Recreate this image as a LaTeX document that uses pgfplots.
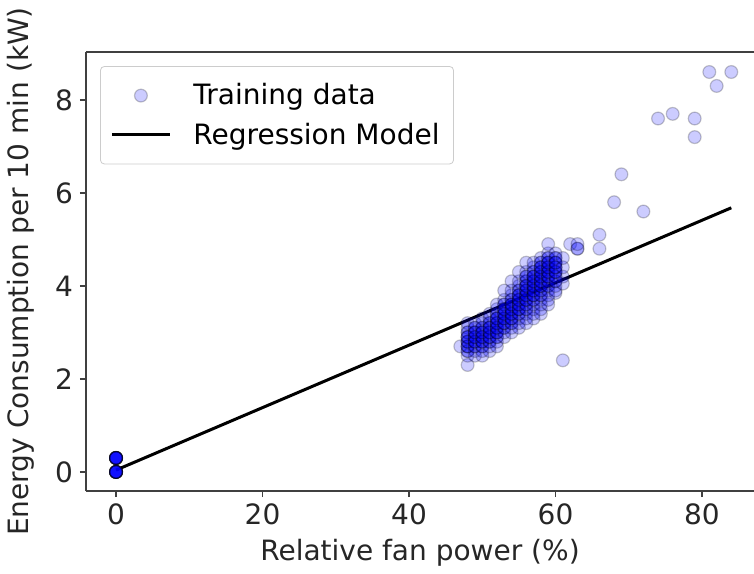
\documentclass[border=0pt]{standalone}
\usepackage{pgfplots}
\pgfplotsset{compat=1.18}
\usepackage{fontspec}
\setmainfont{DejaVu Sans}
\pgfplotsset{
  scatterlegend/.style={legend image code/.code={\draw[mark repeat=2,mark phase=2,##1] plot coordinates {(0pt,0pt) (14.5pt,0pt) (29pt,0pt)};}},
  linelegend/.style={legend image code/.code={\draw[##1] (0pt,0pt) -- (29pt,0pt);}},
}
\begin{document}
\begin{tikzpicture}
\begin{axis}[
  scale only axis,
  width=334pt, height=219.5pt,
  xmin=-4.1, xmax=87.1, ymin=-0.41, ymax=9.03,
  axis y line*=left,
  tick pos=left,
  xtick={0,20,40,60,80}, ytick={0,2,4,6,8},
  tick align=outside,
  major tick length=3pt,
  tick style={black!75, line width=0.8pt},
  axis line style={black!75, line width=0.85pt},
  /pgf/number format/assume math mode=true,
  tick label style={font=\fontsize{14}{16}\selectfont, text=black!85},
  xlabel={Relative fan power (\%)},
  ylabel={Energy Consumption per 10 min (kW)},
  label style={font=\fontsize{14}{16}\selectfont, text=black!85},
  xlabel style={at={(axis description cs:0.5,-0.141)}, anchor=center},
  ylabel style={at={(axis description cs:-0.0975,0.5)}, anchor=center},
  legend style={at={(axis description cs:0.021,0.968)}, anchor=north west,
    font=\fontsize{14}{16}\selectfont, draw=black!20, rounded corners=2pt,
    fill=white, fill opacity=0.8, text opacity=1,
    inner xsep=5pt, inner ysep=6.5pt, row sep=3.5pt, column sep=9pt,
    cells={anchor=west}},
]
\addplot[only marks, mark=*, mark size=3.2pt,
  mark options={fill=blue, draw=black, fill opacity=0.2, draw opacity=0.22, line width=0.6pt},
  scatterlegend]
table {
x y
0 0
0 0
0 0
0 0
0 0
0 0
0 0
0 0
0 0
0 0
0 0
0 0
0 0.3
0 0.3
0 0.3
0 0.3
0 0.3
0 0.3
0 0.3
0 0.3
0 0.3
0 0.3
0 0.3
0 0.3
47 2.7
48 2.3
48 2.5
48 2.6
48 2.7
48 2.8
48 2.9
48 3.0
48 3.1
48 3.2
48 2.6
48 2.7
48 2.8
48 2.9
48 3.0
48 2.7
48 2.8
48 2.9
49 2.5
49 2.6
49 2.7
49 2.8
49 2.9
49 3.0
49 3.1
49 3.2
49 2.7
49 2.8
49 2.9
49 3.0
49 3.1
49 2.8
49 2.9
49 3.0
50 2.5
50 2.6
50 2.7
50 2.8
50 2.9
50 3.0
50 3.1
50 3.2
50 3.3
50 2.7
50 2.8
50 2.9
50 3.0
50 3.1
50 2.8
50 2.9
50 3.0
51 2.6
51 2.7
51 2.8
51 2.9
51 3.0
51 3.1
51 3.2
51 3.3
51 3.4
51 2.8
51 2.9
51 3.0
51 3.1
51 3.2
51 2.9
51 3.0
51 3.1
52 2.7
52 2.8
52 2.9
52 3.0
52 3.1
52 3.2
52 3.3
52 3.4
52 3.5
52 3.6
52 2.9
52 3.0
52 3.1
52 3.2
52 3.3
52 3.4
52 3.0
52 3.1
52 3.2
52 3.3
53 2.9
53 3.0
53 3.1
53 3.2
53 3.3
53 3.4
53 3.5
53 3.6
53 3.7
53 3.9
53 3.1
53 3.2
53 3.3
53 3.4
53 3.5
53 3.6
53 3.2
53 3.3
53 3.4
53 3.5
54 3.0
54 3.1
54 3.2
54 3.3
54 3.4
54 3.5
54 3.6
54 3.7
54 3.8
54 3.9
54 4.1
54 3.2
54 3.3
54 3.4
54 3.5
54 3.6
54 3.7
54 3.3
54 3.4
54 3.5
54 3.6
55 3.1
55 3.2
55 3.3
55 3.4
55 3.5
55 3.6
55 3.7
55 3.8
55 3.9
55 4.0
55 4.1
55 4.3
55 3.4
55 3.5
55 3.6
55 3.7
55 3.8
55 3.9
55 3.5
55 3.6
55 3.7
55 3.8
56 3.2
56 3.3
56 3.4
56 3.5
56 3.6
56 3.7
56 3.8
56 3.9
56 4.0
56 4.1
56 4.2
56 4.3
56 4.5
56 3.5
56 3.6
56 3.7
56 3.8
56 3.9
56 4.0
56 4.1
56 4.2
56 3.7
56 3.8
56 3.9
56 4.0
57 3.3
57 3.4
57 3.5
57 3.6
57 3.7
57 3.8
57 3.9
57 4.0
57 4.1
57 4.2
57 4.3
57 4.4
57 4.5
57 3.7
57 3.8
57 3.9
57 4.0
57 4.1
57 4.2
57 4.3
57 3.8
57 3.9
57 4.0
57 4.1
57 4.2
58 3.4
58 3.5
58 3.6
58 3.7
58 3.8
58 3.9
58 4.0
58 4.1
58 4.2
58 4.3
58 4.4
58 4.5
58 4.6
58 3.8
58 3.9
58 4.0
58 4.1
58 4.2
58 4.3
58 4.4
58 4.5
58 4.0
58 4.1
58 4.2
58 4.3
58 4.4
59 3.6
59 3.7
59 3.8
59 3.9
59 4.0
59 4.1
59 4.2
59 4.3
59 4.4
59 4.5
59 4.6
59 4.7
59 4.9
59 4.0
59 4.1
59 4.2
59 4.3
59 4.4
59 4.5
59 4.6
59 4.2
59 4.3
59 4.4
59 4.5
60 3.85
60 3.9
60 4.0
60 4.1
60 4.2
60 4.3
60 4.4
60 4.5
60 4.6
60 4.7
60 4.1
60 4.2
60 4.3
60 4.4
60 4.5
60 4.6
60 4.3
60 4.4
60 4.5
61 4.05
61 4.2
61 4.4
61 4.6
61 2.4
62 4.9
63 4.8
63 4.8
63 4.9
66 4.8
66 5.1
68 5.8
69 6.4
72 5.6
74 7.6
76 7.7
79 7.6
79 7.2
81 8.6
82 8.3
84 8.6
};
\addlegendentry{Training data}
\addplot[black, line width=1.5pt, linelegend]
table {
x y
0 0.04
84 5.68
};
\addlegendentry{Regression Model}
\end{axis}
\pgfresetboundingbox
\useasboundingbox (-43pt,-41pt) rectangle (334pt,245.5pt);
\end{tikzpicture}
\end{document}
